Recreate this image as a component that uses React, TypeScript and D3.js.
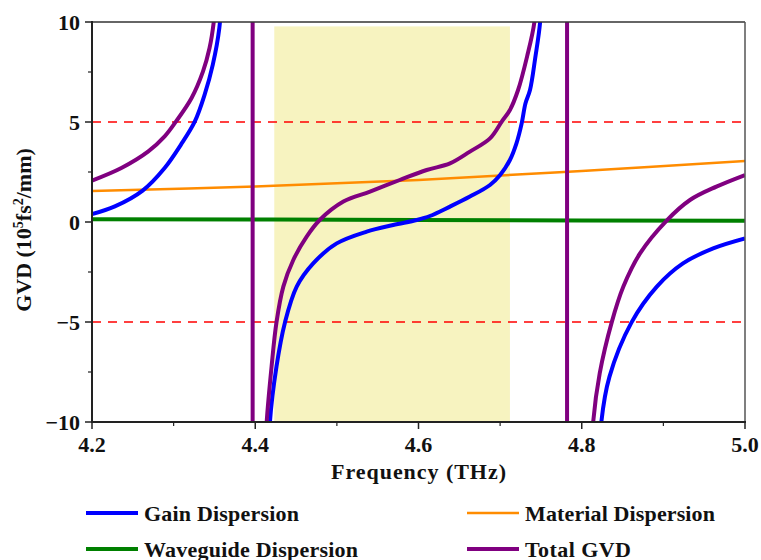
import React from "react";
import * as d3 from "d3";

type P = [number, number];

// Frequency (THz), GVD (10^5 fs^2/mm)
const gainLeft: P[] = [
  [4.2, 0.4], [4.228, 0.78], [4.262, 1.57], [4.289, 2.7], [4.309, 3.87],
  [4.326, 5.03], [4.338, 6.37], [4.348, 7.87], [4.356, 9.7], [4.3595, 12],
];
const gainMid: P[] = [
  [4.4165, -13], [4.418, -10], [4.426, -7.23], [4.4364, -5.02], [4.4508, -3.23],
  [4.471, -2.07], [4.4998, -1.07], [4.5366, -0.48], [4.569, -0.15], [4.5978, 0.1],
  [4.614, 0.3], [4.6386, 0.77], [4.663, 1.27], [4.6876, 1.85], [4.7, 2.35],
  [4.712, 3.1], [4.72, 3.93], [4.7264, 4.93], [4.731, 5.93], [4.7366, 6.6],
  [4.743, 8.2], [4.749, 10], [4.751, 12],
];
const gainRight: P[] = [
  [4.822, -12], [4.824, -10], [4.834, -7.73], [4.861, -5.02], [4.892, -3.23],
  [4.924, -2.07], [4.961, -1.32], [5.0, -0.82],
];
const totalLeft: P[] = [
  [4.2, 2.07], [4.236, 2.7], [4.269, 3.53], [4.289, 4.28], [4.303, 5.03],
  [4.322, 6.2], [4.336, 7.53], [4.344, 8.7], [4.349, 9.95], [4.352, 11.5],
];
const totalMid: P[] = [
  [4.412, -12], [4.414, -10], [4.42, -7.23], [4.426, -5.02], [4.4344, -3.23],
  [4.4466, -1.9], [4.463, -0.73], [4.479, 0.1], [4.508, 1.02], [4.5406, 1.52],
  [4.577, 2.1], [4.61, 2.6], [4.6386, 2.93], [4.663, 3.52], [4.6876, 4.18],
  [4.702, 5.02], [4.712, 5.6], [4.722, 6.6], [4.733, 8.27], [4.742, 10], [4.745, 12],
];
const totalRight: P[] = [
  [4.812, -12], [4.814, -10], [4.822, -7.57], [4.8367, -5.02], [4.851, -3.23],
  [4.8714, -1.57], [4.904, 0.07], [4.9326, 1.1], [4.965, 1.77], [5.0, 2.35],
];
const totalPoles = [4.3968, 4.782];
const materialDisp: P[] = [
  [4.2, 1.55], [4.4, 1.78], [4.6, 2.1], [4.8, 2.55], [5.0, 3.05],
];
const waveguideDisp: P[] = [
  [4.2, 0.14], [4.42, 0.13], [4.6, 0.1], [4.8, 0.08], [5.0, 0.06],
];
const thresholds = [5, -5];
const bandFreq = [4.4233, 4.712];
const bandGvd = [-10, 9.78];
const xMajor = [4.2, 4.4, 4.6, 4.8, 5.0];
const xMinor = [4.3, 4.5, 4.7, 4.9];
const yMajor = [-10, -5, 0, 5, 10];
const yMinor = [-7.5, -2.5, 2.5, 7.5];
const legendItems = [
  { label: "Gain Dispersion", color: "#0000ff", w: 4, col: 0, row: 0, len: 155 },
  { label: "Material Dispersion", color: "#ff8c00", w: 2.5, col: 1, row: 0, len: 190 },
  { label: "Waveguide Dispersion", color: "#008000", w: 4, col: 0, row: 1, len: 214 },
  { label: "Total GVD", color: "#800080", w: 4, col: 1, row: 1, len: 106 },
];

const W = 761, H = 560;
const L = 92, R = 745, T = 22, B = 422;
const FONT = "'Liberation Serif', 'Times New Roman', serif";

export default function App() {
  const x = d3.scaleLinear().domain([4.2, 5.0]).range([L, R]);
  const y = d3.scaleLinear().domain([-10, 10]).range([B, T]);
  const line = d3.line<P>().x(d => x(d[0])).y(d => y(d[1])).curve(d3.curveCatmullRom.alpha(0.5));
  const straight = d3.line<P>().x(d => x(d[0])).y(d => y(d[1]));

  return (
    <svg width={W} height={H} style={{ position: "absolute", left: 0, top: 0, background: "#fff" }}
      fontFamily={FONT} fontWeight="bold">
      <defs>
        <clipPath id="plot"><rect x={L} y={T} width={R - L} height={B - T} /></clipPath>
      </defs>
      <rect x={0} y={0} width={W} height={H} fill="#fff" />
      <rect x={x(bandFreq[0])} y={y(bandGvd[1])} width={x(bandFreq[1]) - x(bandFreq[0])}
        height={y(bandGvd[0]) - y(bandGvd[1])} fill="#f7f3c0" />
      <g clipPath="url(#plot)">
        {thresholds.map(t => (
          <line key={t} x1={L} x2={R} y1={y(t)} y2={y(t)} stroke="#ff0000" strokeWidth={1.6} strokeDasharray="9,7" />
        ))}
        <path d={straight(waveguideDisp) || ""} fill="none" stroke="#008000" strokeWidth={4} />
        <path d={line(materialDisp) || ""} fill="none" stroke="#ff8c00" strokeWidth={2.5} />
        {[gainLeft, gainMid, gainRight].map((s, i) => (
          <path key={i} d={line(s) || ""} fill="none" stroke="#0000ff" strokeWidth={4} />
        ))}
        {[totalLeft, totalMid, totalRight].map((s, i) => (
          <path key={i} d={line(s) || ""} fill="none" stroke="#800080" strokeWidth={4} />
        ))}
        {totalPoles.map(p => (
          <path key={p} d={straight([[p, 12], [p, -12]]) || ""} fill="none" stroke="#800080" strokeWidth={4} />
        ))}
      </g>
      {/* frame */}
      <line x1={L} x2={R} y1={T} y2={T} stroke="#333" strokeWidth={1.5} />
      <line x1={R} x2={R} y1={T} y2={B} stroke="#555" strokeWidth={1.5} />
      <line x1={L} x2={L} y1={T - 1} y2={B + 1} stroke="#222" strokeWidth={2} />
      <line x1={L - 1} x2={R + 1} y1={B} y2={B} stroke="#222" strokeWidth={2} />
      {/* ticks */}
      {xMajor.map(v => <line key={"xm" + v} x1={x(v)} x2={x(v)} y1={B} y2={B + 7} stroke="#222" strokeWidth={1.5} />)}
      {xMinor.map(v => <line key={"xn" + v} x1={x(v)} x2={x(v)} y1={B} y2={B + 4} stroke="#222" strokeWidth={1.2} />)}
      {yMajor.map(v => <line key={"ym" + v} x1={L - 7} x2={L} y1={y(v)} y2={y(v)} stroke="#222" strokeWidth={1.5} />)}
      {yMinor.map(v => <line key={"yn" + v} x1={L - 4} x2={L} y1={y(v)} y2={y(v)} stroke="#222" strokeWidth={1.2} />)}
      {xMajor.map(v => (
        <text key={"xl" + v} x={x(v)} y={452} textAnchor="middle" fontSize={22} fill="#111">{v.toFixed(1)}</text>
      ))}
      {yMajor.map(v => (
        <text key={"yl" + v} x={80} y={y(v)} dy="0.35em" textAnchor="end" fontSize={22} fill="#111">
          {v < 0 ? "\u2212" + Math.abs(v) : String(v)}
        </text>
      ))}
      <text x={(L + R) / 2} y={479} textAnchor="middle" fontSize={22} fill="#111"
        textLength={175} lengthAdjust="spacing">Frequency (THz)</text>
      <text transform={`translate(31, 230) rotate(-90)`} textAnchor="middle" fontSize={22} fill="#111">
        GVD (10<tspan dy="-8" fontSize={14}>5</tspan><tspan dy="8">fs</tspan><tspan dy="-8" fontSize={14}>2</tspan><tspan dy="8">/mm)</tspan>
      </text>
      {legendItems.map(it => {
        const lx = it.col === 0 ? 86 : 467;
        const ly = it.row === 0 ? 513 : 549;
        return (
          <g key={it.label}>
            <line x1={lx} x2={lx + 52} y1={ly} y2={ly} stroke={it.color} strokeWidth={it.w} />
            <text x={lx + 58} y={ly + 8} fontSize={22} fill="#111" textLength={it.len} lengthAdjust="spacing">{it.label}</text>
          </g>
        );
      })}
    </svg>
  );
}
